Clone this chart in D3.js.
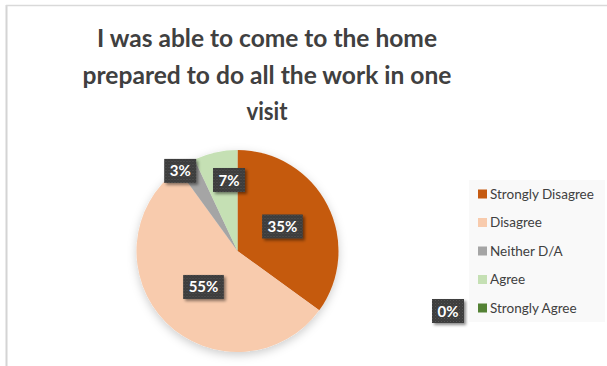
<!DOCTYPE html>
<html>
<head>
<meta charset="utf-8">
<script src="https://cdn.jsdelivr.net/npm/d3@7/dist/d3.min.js"></script>
<style>
  html, body { margin: 0; padding: 0; background: #fff; }
  svg { display: block; }
</style>
</head>
<body>
<svg id="chart" width="607" height="366"></svg>
<script>
// Survey responses
const categories = ["Strongly Disagree", "Disagree", "Neither D/A", "Agree", "Strongly Agree"];
const values = [35, 55, 3, 7, 0];
const colors = ["#C55A11", "#F8CBAD", "#A5A5A5", "#C5E0B4", "#548235"];
const titleLines = ["I was able to come to the home", "prepared to do all the work in one", "visit"];

const svg = d3.select("#chart");
const W = 607, H = 366;
const font = "Lato, 'Open Sans', sans-serif";

// filters and patterns
const defs = svg.append("defs");
const pieShadow = defs.append("filter").attr("id", "pieShadow")
  .attr("x", "-20%").attr("y", "-20%").attr("width", "140%").attr("height", "140%");
pieShadow.append("feDropShadow").attr("dx", 0).attr("dy", 3).attr("stdDeviation", 5)
  .attr("flood-color", "#000").attr("flood-opacity", 0.2);

const boxShadow = defs.append("filter").attr("id", "boxShadow")
  .attr("x", "-30%").attr("y", "-30%").attr("width", "170%").attr("height", "170%");
boxShadow.append("feDropShadow").attr("dx", 2).attr("dy", 2).attr("stdDeviation", 1.6)
  .attr("flood-color", "#000").attr("flood-opacity", 0.45);

const dots = defs.append("pattern").attr("id", "dots")
  .attr("width", 3).attr("height", 3).attr("patternUnits", "userSpaceOnUse");
dots.append("rect").attr("width", 3).attr("height", 3).attr("fill", "#3c3c3c");
dots.append("rect").attr("x", 0).attr("y", 0).attr("width", 1).attr("height", 1).attr("fill", "#555");
dots.append("rect").attr("x", 1.5).attr("y", 1.5).attr("width", 1).attr("height", 1).attr("fill", "#4a4a4a");

// chart frame (left and top edges)
svg.append("line").attr("x1", 6.5).attr("x2", 6.5).attr("y1", 5).attr("y2", H)
  .attr("stroke", "#d4d4d4").attr("stroke-width", 2);
svg.append("line").attr("x1", 6).attr("x2", W).attr("y1", 5.5).attr("y2", 5.5)
  .attr("stroke", "#d9d9d9").attr("stroke-width", 1.5);

// title
const titleX = 267;
const titleWidths = [340, 369, 41];
svg.append("g").selectAll("text").data(titleLines).join("text")
  .attr("x", titleX)
  .attr("y", (d, i) => 47 + i * 36.5)
  .attr("text-anchor", "middle")
  .attr("font-family", font)
  .attr("font-weight", 700)
  .attr("font-size", 24)
  .attr("fill", "#404040")
  .attr("textLength", (d, i) => titleWidths[i])
  .attr("lengthAdjust", "spacingAndGlyphs")
  .text(d => d);

// pie
const cx = 237.5, cy = 251, R = 101;
const pie = d3.pie().sort(null).value(d => d.value);
const arcs = pie(categories.map((c, i) => ({ name: c, value: values[i], color: colors[i] })));
const arc = d3.arc().innerRadius(0).outerRadius(R);

const g = svg.append("g").attr("transform", `translate(${cx},${cy})`);
g.append("g").attr("filter", "url(#pieShadow)")
  .selectAll("path").data(arcs.filter(a => a.value > 0)).join("path")
  .attr("d", arc)
  .attr("fill", d => d.data.color);

// data labels: placed along each slice's mid-angle
const labelRadius = [0.507, 0.49, 0.975, 0.708];
const labelAngleShift = [-0.028, -0.028, -0.087, 0.101];
function labelBox(parent, x, y, txt) {
  const t = parent.append("text")
    .attr("font-family", font).attr("font-weight", 700).attr("font-size", 15)
    .attr("fill", "#fff").attr("text-anchor", "middle")
    .attr("x", x).attr("y", y + 5.5).text(txt);
  const w = t.node().getComputedTextLength() + 11;
  parent.insert("rect", "text")
    .attr("x", x - w / 2).attr("y", y - 12).attr("width", w).attr("height", 24)
    .attr("fill", "url(#dots)").attr("filter", "url(#boxShadow)");
}
arcs.forEach((a, i) => {
  if (a.value <= 0) return;
  const mid = (a.startAngle + a.endAngle) / 2 + labelAngleShift[i];
  const r = R * labelRadius[i];
  const x = r * Math.sin(mid), y = -r * Math.cos(mid);
  const lg = g.append("g");
  labelBox(lg, x, y, a.value + "%");
});

// legend
const legX = 469, legY = 180, legW = 136, legH = 142;
const leg = svg.append("g");
leg.append("rect").attr("x", legX).attr("y", legY).attr("width", legW).attr("height", legH)
  .attr("fill", "#f9f9f9");
const rowY = d3.scalePoint().domain(categories).range([194, 308]);
const rows = leg.selectAll("g.row").data(categories).join("g").attr("class", "row")
  .attr("transform", d => `translate(0,${rowY(d)})`);
rows.append("rect").attr("x", 478).attr("y", -4.5).attr("width", 9).attr("height", 9)
  .attr("fill", (d, i) => colors[i]);
rows.append("text").attr("x", 490).attr("y", 4.8)
  .attr("font-family", font).attr("font-size", 13.5).attr("fill", "#404040")
  .text(d => d);

// zero-value slices get their label beside the legend entry
arcs.forEach((a, i) => {
  if (a.value > 0) return;
  const lg = svg.append("g");
  labelBox(lg, 448, rowY(a.data.name) + 3, a.value + "%");
});
</script>
</body>
</html>
